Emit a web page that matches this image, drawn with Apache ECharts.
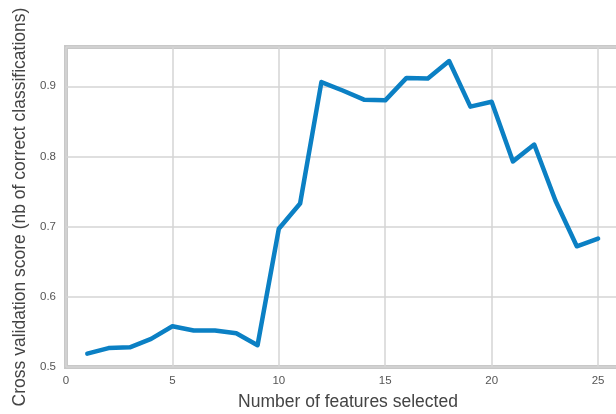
<!DOCTYPE html>
<html>
<head>
<meta charset="utf-8">
<script src="https://cdn.jsdelivr.net/npm/echarts@6/dist/echarts.min.js"></script>
<style>
  html, body { margin: 0; padding: 0; background: #fff; }
  #chart { width: 616px; height: 414px; }
</style>
</head>
<body>
<div id="chart"></div>
<script>
// Number of features kept at each step of recursive feature elimination
const featureCounts = [1, 2, 3, 4, 5, 6, 7, 8, 9, 10, 11, 12, 13, 14, 15, 16, 17, 18, 19, 20, 21, 22, 23, 24, 25];
// Mean cross-validation score for each feature count
const cvScores = [0.519, 0.527, 0.528, 0.540, 0.558, 0.552, 0.552, 0.548, 0.531, 0.697,
                  0.733, 0.906, 0.894, 0.881, 0.880, 0.912, 0.911, 0.936, 0.871, 0.878,
                  0.793, 0.817, 0.737, 0.672, 0.683];
const xTicks = [0, 5, 10, 15, 20, 25];
const yTicks = [0.5, 0.6, 0.7, 0.8, 0.9];

const chart = echarts.init(document.getElementById('chart'), null, { renderer: 'canvas' });

const labelFont = { color: '#555', fontSize: 11.5, fontFamily: 'Liberation Sans, Arial, sans-serif' };
const nameFont = { color: '#444', fontSize: 17.5, fontFamily: 'Liberation Sans, Arial, sans-serif' };

chart.setOption({
  animation: false,
  backgroundColor: '#fff',
  grid: {
    left: 66, width: 564, top: 47, bottom: 47,
    outerBoundsMode: 'none', containLabel: false,
    show: true, borderColor: '#c8c8c8', borderWidth: 4, backgroundColor: 'transparent'
  },
  xAxis: {
    type: 'value', min: 0, max: 26.5, interval: 5,
    name: 'Number of features selected', nameLocation: 'middle', nameGap: 26,
    nameTextStyle: nameFont,
    axisLine: { show: false }, axisTick: { show: false },
    axisLabel: Object.assign({ margin: 8, showMaxLabel: false,
      formatter: v => xTicks.includes(v) ? String(v) : '' }, labelFont),
    splitLine: { show: true, lineStyle: { color: '#d4d4d4', width: 1.5 } }
  },
  yAxis: {
    type: 'value', min: 0.5, max: 0.956, interval: 0.1,
    name: 'Cross validation score (nb of correct classifications)', nameLocation: 'middle', nameGap: 36,
    nameTextStyle: nameFont,
    axisLine: { show: false }, axisTick: { show: false },
    axisLabel: Object.assign({ margin: 10, showMaxLabel: false,
      formatter: v => {
        const r = Math.round(v * 10) / 10;
        return (Math.abs(r - v) < 1e-6 && yTicks.includes(r)) ? r.toFixed(1) : '';
      } }, labelFont),
    splitLine: { show: true, lineStyle: { color: '#d4d4d4', width: 1.5 } }
  },
  series: [{
    type: 'line',
    data: featureCounts.map((n, i) => [n, cvScores[i]]),
    showSymbol: false,
    lineStyle: { color: '#0b80c4', width: 4.5, join: 'round', cap: 'round' },
    z: 5
  }]
});
</script>
</body>
</html>
